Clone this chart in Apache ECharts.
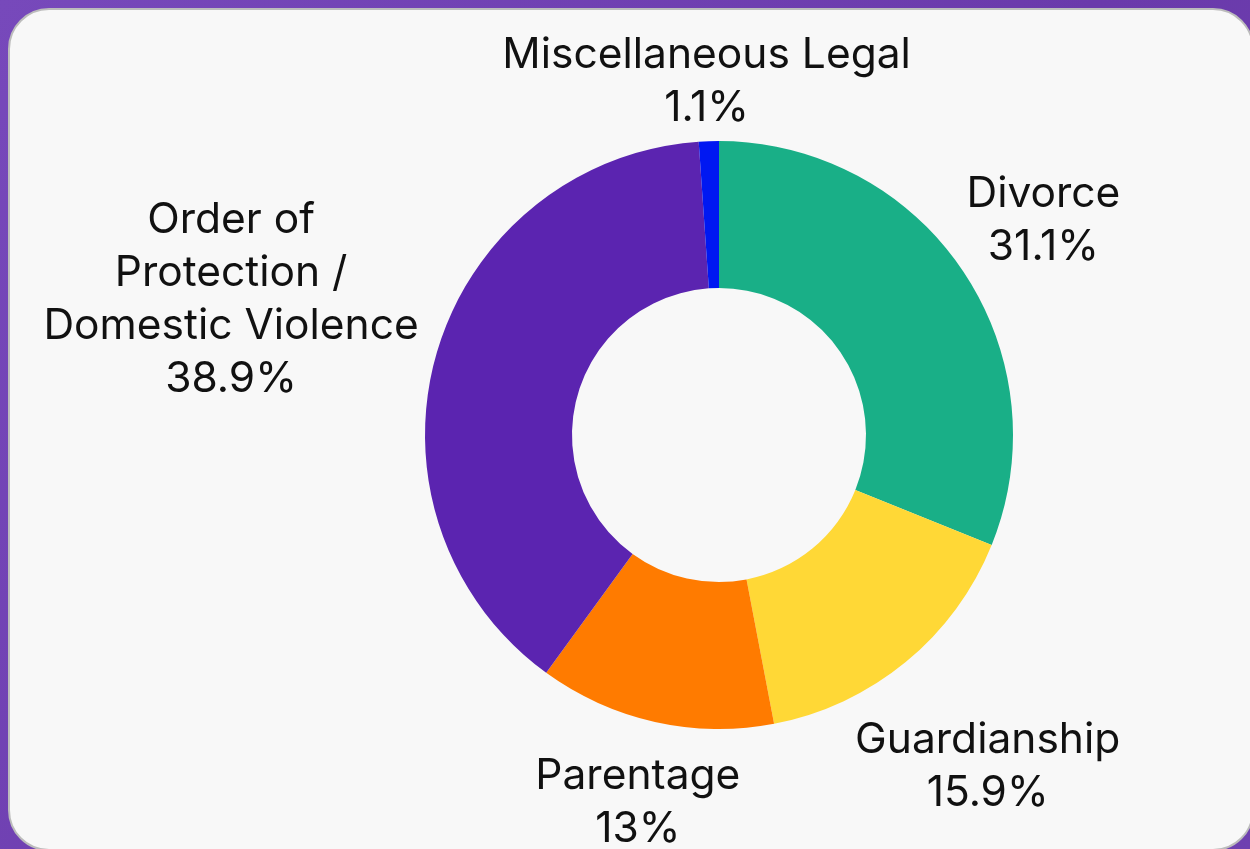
<!DOCTYPE html>
<html>
<head>
<meta charset="utf-8">
<script src="https://cdn.jsdelivr.net/npm/echarts@6/dist/echarts.min.js"></script>
<style>
  html, body { margin: 0; padding: 0; width: 1250px; height: 849px; overflow: hidden; }
  #chart { width: 1250px; height: 849px; }
</style>
</head>
<body>
<div id="chart"></div>
<script>
// ---- data ----
const categories = ['Divorce', 'Guardianship', 'Parentage', 'Order of Protection / Domestic Violence', 'Miscellaneous Legal'];
const labelTexts = ['Divorce', 'Guardianship', 'Parentage', 'Order of\nProtection /\nDomestic Violence', 'Miscellaneous Legal'];
const percents = [31.1, 15.9, 13, 38.9, 1.1];
const colors = ['#19af87', '#ffd836', '#ff7b00', '#5b24b0', '#0018f2'];

// ---- layout / style ----
const CX = 719, CY = 435, R_OUT = 294, R_IN = 147, GAP = 4, LABEL_DY = 5;
const total = percents.reduce((a, b) => a + b, 0);

const chart = echarts.init(document.getElementById('chart'), null, { renderer: 'canvas' });

function midAngle(i) {
  let cum = 0;
  for (let k = 0; k < i; k++) cum += percents[k];
  return (cum + percents[i] / 2) / total * Math.PI * 2;
}

const option = {
  animation: false,
  backgroundColor: {
    type: 'linear', x: 0, y: 0, x2: 1, y2: 1,
    colorStops: [
      { offset: 0, color: '#7749bb' },
      { offset: 0.6, color: '#6a3aab' },
      { offset: 1, color: '#6e40b0' }
    ]
  },
  graphic: [{
    type: 'rect',
    z: -10,
    shape: { x: 9, y: 9, width: 1244, height: 841, r: 40 },
    style: { fill: '#f8f8f8', stroke: '#bcbcbc', lineWidth: 2 }
  }],
  series: [{
    type: 'pie',
    center: [CX, CY],
    radius: [R_IN, R_OUT],
    startAngle: 90,
    clockwise: true,
    avoidLabelOverlap: false,
    emphasis: { disabled: true },
    itemStyle: { borderWidth: 0 },
    label: {
      show: true,
      position: 'outside',
      fontFamily: 'Inter',
      fontSize: 42.5,
      lineHeight: 53,
      color: '#111111',
      align: 'center',
      formatter: function (p) {
        return labelTexts[p.dataIndex] + '\n' + p.value + '%';
      }
    },
    labelLine: { show: false },
    labelLayout: function (params) {
      const i = params.dataIndex;
      const a = midAngle(i);
      const ux = Math.sin(a), uy = -Math.cos(a);
      const w = params.labelRect.width, h = params.labelRect.height;
      const t = R_OUT + GAP + Math.abs(ux) * w / 2 + Math.abs(uy) * h / 2;
      return {
        x: CX + ux * t,
        y: CY + uy * t + LABEL_DY,
        align: 'center',
        verticalAlign: 'middle'
      };
    },
    data: categories.map((c, i) => ({
      name: c,
      value: percents[i],
      itemStyle: { color: colors[i] }
    }))
  }]
};

chart.setOption(option);
</script>
</body>
</html>
